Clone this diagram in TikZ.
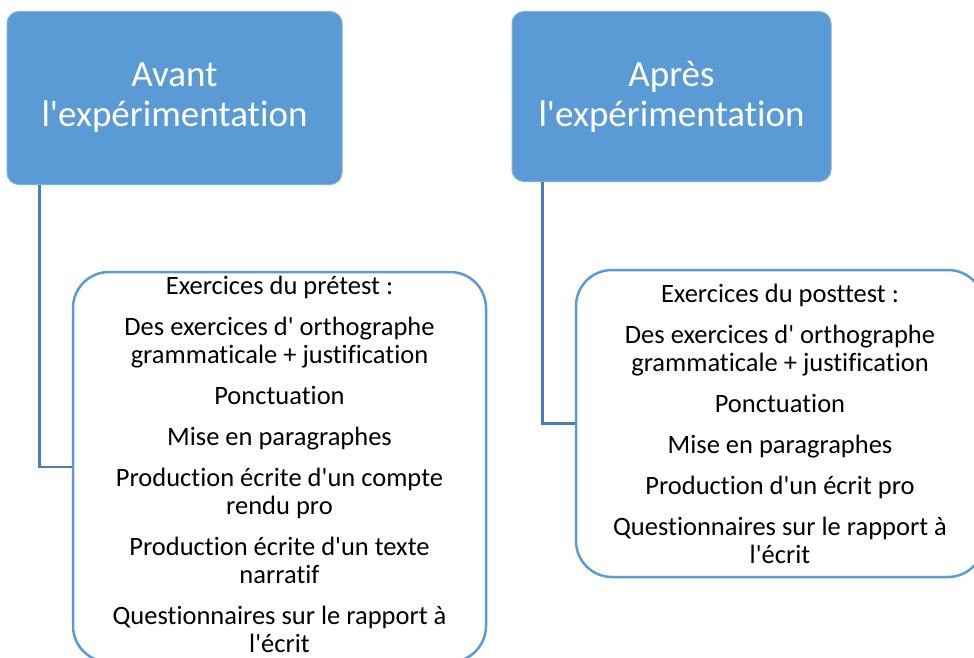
\documentclass[tikz,border=0pt]{standalone}
\usepackage{fontspec}
\setmainfont{Carlito}[Ligatures={TeXOff,NoCommon}]
\definecolor{boxblue}{HTML}{5B9BD5}
\definecolor{linkblue}{HTML}{4A7EBB}
\begin{document}
\begin{tikzpicture}[x=1pt,y=-1pt,
  headbox/.style={draw=boxblue!80!white,line width=1pt,fill=boxblue,rounded corners=12pt,
    text=white,align=center,inner sep=0pt,font=\fontsize{37}{40}\selectfont},
  listbox/.style={draw=boxblue,line width=2.5pt,fill=white,rounded corners=36pt,inner sep=0pt},
  listtext/.style={align=center,inner sep=0pt,font=\fontsize{26.5}{28}\selectfont},
  link/.style={draw=linkblue,line width=2.5pt}]
\useasboundingbox (0,0) rectangle (974,657);
\begin{scope}
\clip (0,0) rectangle (974,657);
\node[headbox,minimum width=335pt,minimum height=173pt] (tl) at (174.5,98) {Avant\\l'expérimentation};
\node[headbox,minimum width=319pt,minimum height=170pt] (tr) at (671.5,96.5) {Après\\l'expérimentation};
\draw[link] ([xshift=33pt]tl.south west) |- (73,467) coordinate (la);
\draw[link] ([xshift=31pt]tr.south west) |- (576,423.5) coordinate (ra);
\node[listbox,minimum width=413pt,minimum height=390pt] (bl) at (279.5,467) {};
\node[listtext] (blt) at (279.5,464) {Exercices du prétest :\\[13pt]
Des exercices d' orthographe\\grammaticale + justification\\[13pt]
Ponctuation\\[13pt]
Mise en paragraphes\\[13pt]
Production écrite d'un compte\\rendu pro\\[13pt]
Production écrite d'un texte\\narratif\\[13pt]
Questionnaires sur le rapport à\\l'écrit};
\node[listbox,minimum width=408pt,minimum height=307pt] (br) at (780,423.5) {};
\node[listtext] (brt) at (780,423.5) {Exercices du posttest :\\[13pt]
Des exercices d' orthographe\\grammaticale + justification\\[13pt]
Ponctuation\\[13pt]
Mise en paragraphes\\[13pt]
Production d'un écrit pro\\[13pt]
Questionnaires sur le rapport à\\l'écrit};
\end{scope}
\end{tikzpicture}
\end{document}
